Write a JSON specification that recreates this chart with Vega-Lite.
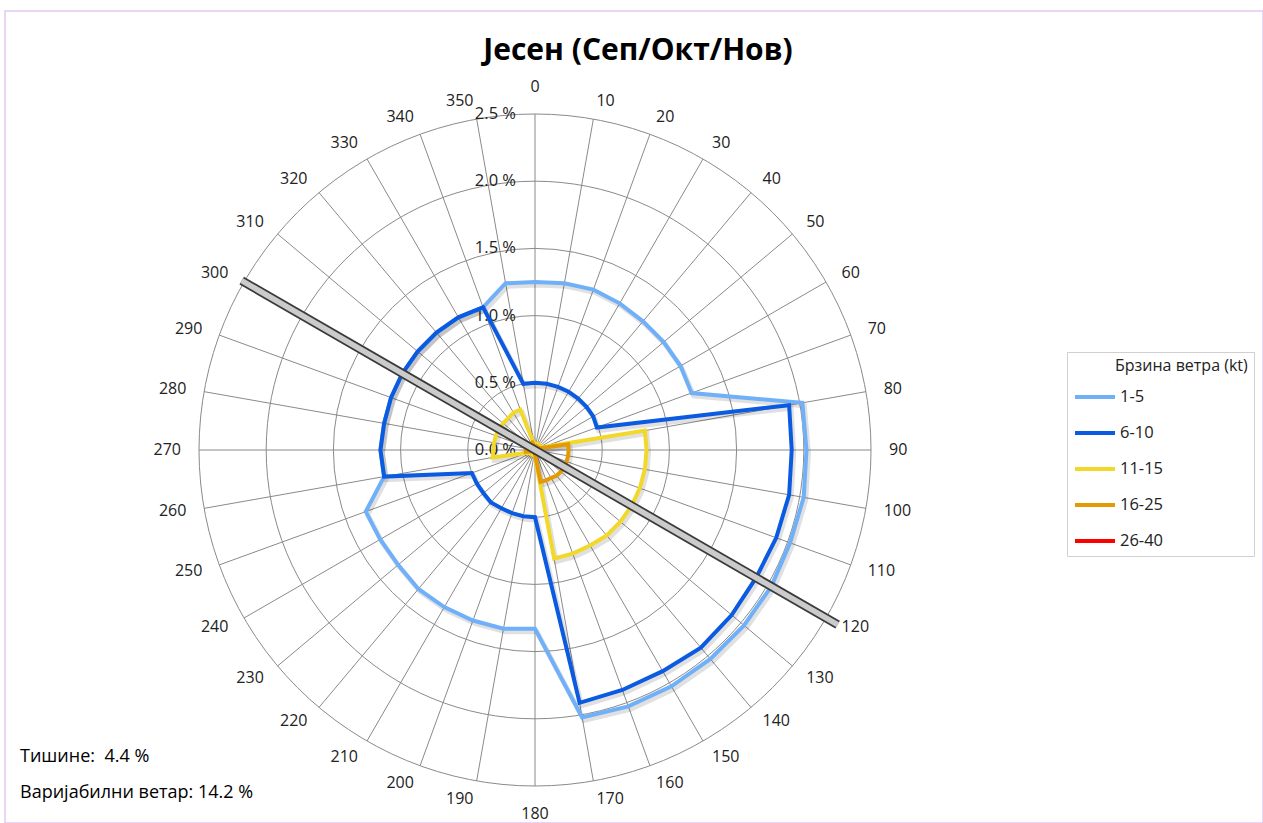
{
  "$schema": "https://vega.github.io/schema/vega-lite/v6.json",
  "width": 1258,
  "height": 812,
  "autosize": {"type": "none"},
  "padding": {"left": 5, "top": 11, "right": 0, "bottom": 0},
  "background": "white",
  "config": {
    "view": {"stroke": "#e2c9f2", "strokeWidth": 1.5},
    "axis": {"disable": true},
    "text": {"font": "Open Sans", "color": "#222222"}
  },
  "datasets": {
    "wind": [
      {"dir": 0, "1-5": 1.25, "6-10": 0.50, "11-15": 0.05, "16-25": 0.03, "26-40": 0.01},
      {"dir": 10, "1-5": 1.26, "6-10": 0.50, "11-15": 0.05, "16-25": 0.03, "26-40": 0.01},
      {"dir": 20, "1-5": 1.27, "6-10": 0.50, "11-15": 0.05, "16-25": 0.03, "26-40": 0.01},
      {"dir": 30, "1-5": 1.26, "6-10": 0.50, "11-15": 0.05, "16-25": 0.03, "26-40": 0.01},
      {"dir": 40, "1-5": 1.25, "6-10": 0.50, "11-15": 0.05, "16-25": 0.03, "26-40": 0.01},
      {"dir": 50, "1-5": 1.25, "6-10": 0.50, "11-15": 0.05, "16-25": 0.03, "26-40": 0.01},
      {"dir": 60, "1-5": 1.25, "6-10": 0.50, "11-15": 0.05, "16-25": 0.03, "26-40": 0.01},
      {"dir": 70, "1-5": 1.24, "6-10": 0.49, "11-15": 0.06, "16-25": 0.04, "26-40": 0.01},
      {"dir": 80, "1-5": 2.02, "6-10": 1.92, "11-15": 0.83, "16-25": 0.25, "26-40": 0.02},
      {"dir": 90, "1-5": 2.02, "6-10": 1.91, "11-15": 0.83, "16-25": 0.25, "26-40": 0.02},
      {"dir": 100, "1-5": 2.03, "6-10": 1.92, "11-15": 0.83, "16-25": 0.25, "26-40": 0.02},
      {"dir": 110, "1-5": 2.02, "6-10": 1.91, "11-15": 0.83, "16-25": 0.25, "26-40": 0.02},
      {"dir": 120, "1-5": 2.03, "6-10": 1.90, "11-15": 0.83, "16-25": 0.25, "26-40": 0.02},
      {"dir": 130, "1-5": 2.03, "6-10": 1.91, "11-15": 0.83, "16-25": 0.25, "26-40": 0.02},
      {"dir": 140, "1-5": 2.03, "6-10": 1.92, "11-15": 0.83, "16-25": 0.25, "26-40": 0.02},
      {"dir": 150, "1-5": 2.03, "6-10": 1.90, "11-15": 0.82, "16-25": 0.24, "26-40": 0.02},
      {"dir": 160, "1-5": 2.03, "6-10": 1.90, "11-15": 0.82, "16-25": 0.24, "26-40": 0.02},
      {"dir": 170, "1-5": 2.02, "6-10": 1.91, "11-15": 0.82, "16-25": 0.24, "26-40": 0.02},
      {"dir": 180, "1-5": 1.33, "6-10": 0.50, "11-15": 0.05, "16-25": 0.03, "26-40": 0.02},
      {"dir": 190, "1-5": 1.35, "6-10": 0.50, "11-15": 0.04, "16-25": 0.02, "26-40": 0.01},
      {"dir": 200, "1-5": 1.35, "6-10": 0.50, "11-15": 0.04, "16-25": 0.02, "26-40": 0.01},
      {"dir": 210, "1-5": 1.35, "6-10": 0.50, "11-15": 0.04, "16-25": 0.02, "26-40": 0.01},
      {"dir": 220, "1-5": 1.35, "6-10": 0.51, "11-15": 0.04, "16-25": 0.02, "26-40": 0.01},
      {"dir": 230, "1-5": 1.33, "6-10": 0.50, "11-15": 0.04, "16-25": 0.02, "26-40": 0.01},
      {"dir": 240, "1-5": 1.33, "6-10": 0.50, "11-15": 0.05, "16-25": 0.02, "26-40": 0.01},
      {"dir": 250, "1-5": 1.34, "6-10": 0.50, "11-15": 0.06, "16-25": 0.03, "26-40": 0.01},
      {"dir": 260, "1-5": 1.14, "6-10": 1.14, "11-15": 0.32, "16-25": 0.07, "26-40": 0.01},
      {"dir": 270, "1-5": 1.15, "6-10": 1.15, "11-15": 0.31, "16-25": 0.07, "26-40": 0.01},
      {"dir": 280, "1-5": 1.14, "6-10": 1.14, "11-15": 0.31, "16-25": 0.07, "26-40": 0.01},
      {"dir": 290, "1-5": 1.14, "6-10": 1.14, "11-15": 0.31, "16-25": 0.07, "26-40": 0.01},
      {"dir": 300, "1-5": 1.14, "6-10": 1.14, "11-15": 0.31, "16-25": 0.07, "26-40": 0.01},
      {"dir": 310, "1-5": 1.14, "6-10": 1.14, "11-15": 0.31, "16-25": 0.07, "26-40": 0.01},
      {"dir": 320, "1-5": 1.14, "6-10": 1.14, "11-15": 0.31, "16-25": 0.06, "26-40": 0.01},
      {"dir": 330, "1-5": 1.14, "6-10": 1.14, "11-15": 0.32, "16-25": 0.06, "26-40": 0.01},
      {"dir": 340, "1-5": 1.13, "6-10": 1.13, "11-15": 0.32, "16-25": 0.06, "26-40": 0.01},
      {"dir": 350, "1-5": 1.26, "6-10": 0.50, "11-15": 0.05, "16-25": 0.03, "26-40": 0.01}
    ],
    "rings": [
      {"level": 0, "label": "0.0 %"},
      {"level": 0.5, "label": "0.5 %"},
      {"level": 1.0, "label": "1.0 %"},
      {"level": 1.5, "label": "1.5 %"},
      {"level": 2.0, "label": "2.0 %"},
      {"level": 2.5, "label": "2.5 %"}
    ],
    "bar": [
      {"d1": 300, "r1": 2.52, "d2": 120, "r2": 2.6}
    ]
  },
  "layer": [
    {
      "data": {"name": "wind"},
      "transform": [
        {"calculate": "2.5*sin(datum.dir*PI/180)", "as": "x"},
        {"calculate": "2.5*cos(datum.dir*PI/180)", "as": "y"}
      ],
      "mark": {"type": "rule", "color": "#8a8a8a", "strokeWidth": 1},
      "encoding": {
        "x": {"field": "x", "type": "quantitative", "scale": {"domain": [-3.9435, 5.4167], "nice": false, "zero": false}, "axis": null},
        "y": {"field": "y", "type": "quantitative", "scale": {"domain": [-2.7753, 3.2664], "nice": false, "zero": false}, "axis": null},
        "x2": {"datum": 0},
        "y2": {"datum": 0}
      }
    },
    {
      "data": {"name": "rings"},
      "transform": [{"filter": "datum.level > 0"}],
      "mark": {"type": "arc", "filled": false, "stroke": "#8a8a8a", "strokeWidth": 1, "theta": 0, "theta2": 6.2832},
      "encoding": {
        "x": {"datum": 0, "type": "quantitative", "scale": {"domain": [-3.9435, 5.4167], "nice": false, "zero": false}},
        "y": {"datum": 0, "type": "quantitative", "scale": {"domain": [-2.7753, 3.2664], "nice": false, "zero": false}},
        "radius": {"field": "level", "type": "quantitative", "stack": null, "scale": {"type": "linear", "domain": [0, 2.5], "range": [0, 336], "zero": true}, "legend": null}
      }
    },
    {
      "data": {"name": "rings"},
      "mark": {"type": "text", "align": "right", "baseline": "middle", "dx": -19, "fontSize": 16.5},
      "encoding": {
        "x": {"datum": 0, "type": "quantitative"},
        "y": {"field": "level", "type": "quantitative"},
        "text": {"field": "label"}
      }
    },
    {
      "data": {"name": "wind"},
      "transform": [
        {"filter": "datum.dir > 0 && datum.dir < 180"},
        {"calculate": "2.634*sin(datum.dir*PI/180)", "as": "x"},
        {"calculate": "2.634*cos(datum.dir*PI/180)", "as": "y"}
      ],
      "mark": {"type": "text", "align": "left", "baseline": "middle", "fontSize": 16},
      "encoding": {
        "x": {"field": "x", "type": "quantitative"},
        "y": {"field": "y", "type": "quantitative"},
        "text": {"field": "dir"}
      }
    },
    {
      "data": {"name": "wind"},
      "transform": [
        {"filter": "datum.dir > 180"},
        {"calculate": "2.634*sin(datum.dir*PI/180)", "as": "x"},
        {"calculate": "2.634*cos(datum.dir*PI/180)", "as": "y"}
      ],
      "mark": {"type": "text", "align": "right", "baseline": "middle", "fontSize": 16},
      "encoding": {
        "x": {"field": "x", "type": "quantitative"},
        "y": {"field": "y", "type": "quantitative"},
        "text": {"field": "dir"}
      }
    },
    {
      "data": {"name": "wind"},
      "transform": [{"filter": "datum.dir == 0"}],
      "mark": {"type": "text", "align": "center", "baseline": "bottom", "dy": -1, "fontSize": 16},
      "encoding": {
        "x": {"datum": 0, "type": "quantitative"},
        "y": {"datum": 2.634, "type": "quantitative"},
        "text": {"field": "dir"}
      }
    },
    {
      "data": {"name": "wind"},
      "transform": [{"filter": "datum.dir == 180"}],
      "mark": {"type": "text", "align": "center", "baseline": "top", "dy": 2, "fontSize": 16},
      "encoding": {
        "x": {"datum": 0, "type": "quantitative"},
        "y": {"datum": -2.634, "type": "quantitative"},
        "text": {"field": "dir"}
      }
    },
    {
      "data": {"name": "wind"},
      "transform": [
        {"fold": ["1-5", "6-10", "11-15", "16-25", "26-40"], "as": ["series", "pct"]},
        {"calculate": "datum.pct*sin(datum.dir*PI/180)", "as": "x"},
        {"calculate": "datum.pct*cos(datum.dir*PI/180)", "as": "y"}
      ],
      "mark": {"type": "line", "interpolate": "linear-closed", "strokeWidth": 5, "color": "#000000", "opacity": 0.12, "xOffset": 2, "yOffset": 3},
      "encoding": {
        "x": {"field": "x", "type": "quantitative"},
        "y": {"field": "y", "type": "quantitative"},
        "detail": {"field": "series"},
        "order": {"field": "dir", "type": "quantitative"}
      }
    },
    {
      "data": {"name": "wind"},
      "transform": [
        {"fold": ["1-5", "6-10", "11-15", "16-25", "26-40"], "as": ["series", "pct"]},
        {"calculate": "datum.pct*sin(datum.dir*PI/180)", "as": "x"},
        {"calculate": "datum.pct*cos(datum.dir*PI/180)", "as": "y"}
      ],
      "mark": {"type": "line", "interpolate": "linear-closed", "strokeWidth": 4},
      "encoding": {
        "x": {"field": "x", "type": "quantitative"},
        "y": {"field": "y", "type": "quantitative"},
        "color": {
          "field": "series",
          "type": "nominal",
          "scale": {"domain": ["1-5", "6-10", "11-15", "16-25", "26-40"], "range": ["#70b0f8", "#0a5ae2", "#f2d82a", "#e39a05", "#ff0000"]},
          "legend": {
            "title": "Брзина ветра (kt)",
            "orient": "none",
            "legendX": 1062,
            "legendY": 341,
            "symbolType": "stroke",
            "symbolStrokeWidth": 4,
            "symbolSize": 1600,
            "rowPadding": 5,
            "labelOffset": 3,
            "labelFontSize": 16.5,
            "labelFont": "Open Sans",
            "labelColor": "#222222",
            "titleFont": "Open Sans",
            "titleFontSize": 16,
            "titleFontWeight": "normal",
            "titleColor": "#222222",
            "titlePadding": 1,
            "padding": 6,
            "strokeColor": "#d0d0d0",
            "fillColor": "#ffffff",
            "encode": {"title": {"update": {"dx": {"value": 42}}}}
          }
        },
        "order": {"field": "dir", "type": "quantitative"}
      }
    },
    {
      "data": {"name": "bar"},
      "transform": [
        {"calculate": "datum.r1*sin(datum.d1*PI/180)", "as": "x"},
        {"calculate": "datum.r1*cos(datum.d1*PI/180)", "as": "y"},
        {"calculate": "datum.r2*sin(datum.d2*PI/180)", "as": "x2"},
        {"calculate": "datum.r2*cos(datum.d2*PI/180)", "as": "y2"}
      ],
      "mark": {"type": "rule", "color": "#3a3a3a", "strokeWidth": 9},
      "encoding": {
        "x": {"field": "x", "type": "quantitative"},
        "y": {"field": "y", "type": "quantitative"},
        "x2": {"field": "x2"},
        "y2": {"field": "y2"}
      }
    },
    {
      "data": {"name": "bar"},
      "transform": [
        {"calculate": "datum.r1*sin(datum.d1*PI/180)", "as": "x"},
        {"calculate": "datum.r1*cos(datum.d1*PI/180)", "as": "y"},
        {"calculate": "datum.r2*sin(datum.d2*PI/180)", "as": "x2"},
        {"calculate": "datum.r2*cos(datum.d2*PI/180)", "as": "y2"}
      ],
      "mark": {"type": "rule", "color": "#dcdcdc", "strokeWidth": 5.5, "opacity": 0.9},
      "encoding": {
        "x": {"field": "x", "type": "quantitative"},
        "y": {"field": "y", "type": "quantitative"},
        "x2": {"field": "x2"},
        "y2": {"field": "y2"}
      }
    },
    {
      "data": {"values": [{"t": "Јесен (Сеп/Окт/Нов)"}]},
      "mark": {"type": "text", "fontSize": 30, "fontWeight": "bold", "align": "center", "baseline": "middle", "color": "#000000"},
      "encoding": {
        "x": {"datum": 0.7663, "type": "quantitative"},
        "y": {"datum": 2.97, "type": "quantitative"},
        "text": {"field": "t"}
      }
    },
    {
      "data": {"values": [{"t": "Тишине:\u00a0 4.4 %"}]},
      "mark": {"type": "text", "fontSize": 18, "align": "left", "baseline": "middle", "color": "#000000"},
      "encoding": {
        "x": {"datum": -3.8319, "type": "quantitative"},
        "y": {"datum": -2.2842, "type": "quantitative"},
        "text": {"field": "t"}
      }
    },
    {
      "data": {"values": [{"t": "Варијабилни ветар: 14.2 %"}]},
      "mark": {"type": "text", "fontSize": 18, "align": "left", "baseline": "middle", "color": "#000000"},
      "encoding": {
        "x": {"datum": -3.8319, "type": "quantitative"},
        "y": {"datum": -2.5521, "type": "quantitative"},
        "text": {"field": "t"}
      }
    }
  ]
}
